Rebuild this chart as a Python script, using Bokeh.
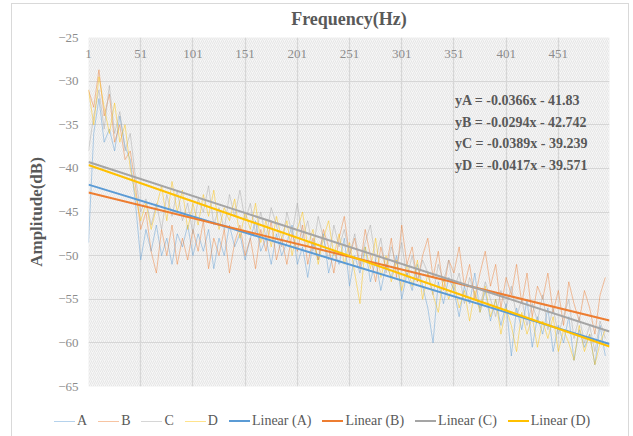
from bokeh.plotting import figure
from bokeh.layouts import column
from bokeh.models import Range1d, FixedTicker, BoxAnnotation, Label, Div
from bokeh.embed import file_html
from bokeh.resources import INLINE

# ---------------- data ----------------
series_names = ["A", "B", "C", "D"]
freq_first = 1
freq_step = 5
freq_last = 500

amp_A = [-48.5, -36, -32, -37, -35.5, -38, -34, -37.5, -39, -44,
         -50.5, -47, -49.5, -46.5, -50, -48, -51, -47.5, -49, -46.5,
         -50, -47.5, -49.5, -47, -51.5, -48, -50, -46.5, -49, -47.5,
         -50.5, -48, -46, -49.5, -48, -51, -47.5, -50, -48.5, -46.5,
         -51, -49, -52.5, -48.5, -50.5, -47.5, -52, -49.5, -51, -48,
         -53.5, -50, -52, -49, -53, -50.5, -54, -51, -52.5, -50,
         -55, -52, -54, -51, -53.5, -56, -60, -53, -55.5, -52.5,
         -54, -57, -53.5, -55.5, -52, -56.5, -54, -57.5, -55, -58,
         -55.5, -61.5, -56, -58.5, -55, -60.5, -57, -59, -56, -61,
         -58, -60, -57, -62, -58.5, -60.5, -59, -62.5, -58, -61.5]

amp_B = [-31, -33, -28.7, -34, -31.5, -37, -35, -39, -38, -42,
         -47, -45, -49.5, -52, -47, -50, -46.5, -51, -48, -50.5,
         -47, -49.5, -46, -51.5, -48, -50, -47, -52, -48.5, -46.5,
         -50, -48, -51.5, -47, -49.5, -46, -50.5, -48, -51, -47.5,
         -49.5, -46.5, -51, -48, -50.5, -47, -49, -52, -48, -45.5,
         -50, -48, -51.5, -47, -50, -53, -49, -51.5, -48, -52.5,
         -46.5, -51, -49, -53, -50, -48, -52.5, -49.5, -54, -50.5,
         -52, -49, -53.5, -51, -55, -52, -49.5, -53.5, -51, -56,
         -52.5, -54.5, -51, -55.5, -52, -57, -53.5, -55, -52, -56.5,
         -54, -58, -53, -55.5, -57.5, -54, -56, -59, -54.5, -52.5]

amp_C = [-38, -34, -31, -35.5, -30.5, -36, -33.5, -38, -36, -41,
         -45, -43.5, -46.5, -44, -47, -43, -45.5, -42.5, -46, -44,
         -47.5, -43.5, -45, -42, -46.5, -44.5, -47, -43, -45.5, -42.5,
         -46, -44, -47.5, -45, -48, -44.5, -46.5, -49, -45, -47.5,
         -44, -48, -46, -49.5, -45.5, -48, -50.5, -46.5, -49, -47,
         -50, -47.5, -51, -48.5, -46.5, -50.5, -48, -52, -49, -51,
         -48.5, -52.5, -50, -53, -50.5, -52, -54.5, -51, -53, -50.5,
         -54, -52, -55.5, -52.5, -54.5, -56, -53, -55, -57, -54,
         -56, -53.5, -57, -55, -58, -55.5, -57.5, -54.5, -58.5, -56,
         -59, -57, -55, -59.5, -57, -60, -58, -61, -57.5, -59.5]

amp_D = [-31, -35, -29.5, -33, -36, -32.5, -37, -35, -40, -43,
         -46, -44, -47, -44.5, -42, -46, -41.5, -45, -42.5, -47,
         -44, -46.5, -43, -45.5, -42.5, -47, -44.5, -46, -43.5, -48,
         -45, -47, -44, -48.5, -46, -49, -45.5, -48, -46, -50,
         -47, -45, -49, -47, -51, -48, -46, -50, -47.5, -51,
         -48.5, -52, -55.5, -49, -51.5, -48, -52.5, -50, -53, -50.5,
         -54, -51, -53.5, -50.5, -55, -52, -54.5, -56.5, -52.5, -55,
         -53, -56, -54, -57.5, -54, -56.5, -53.5, -57, -55, -59,
         -56, -58, -61, -56.5, -59, -57, -60.5, -57.5, -59.5, -57,
         -61, -58.5, -60, -62, -58, -61, -59, -62.5, -60, -58.5]

slopes = [-0.0366, -0.0294, -0.0389, -0.0417]
intercepts = [-41.83, -42.742, -39.239, -39.571]

x_tick_values = [1, 51, 101, 151, 201, 251, 301, 351, 401, 451]
y_tick_values = [-65, -60, -55, -50, -45, -40, -35, -30, -25]

# ---------------- styles ----------------
raw_colors = ["#5b9bd5", "#ed7d31", "#a5a5a5", "#ffc000"]
RAW_ALPHA = 0.45
FONT = "Liberation Serif"
DARK = "#595959"
TICK = "#8c8c8c"

p = figure(width=616, height=402, title=None,
           x_range=Range1d(freq_first, freq_last), y_range=Range1d(-65, -25),
           x_axis_location="above",
           output_backend="svg", toolbar_location=None,
           min_border_left=76, min_border_right=19,
           min_border_top=33, min_border_bottom=20)

p.outline_line_color = None
p.background_fill_color = "#f6f6f6"
p.border_fill_color = "white"

# hatched plot area
p.add_layout(BoxAnnotation(level="image", fill_color="#f6f6f6", fill_alpha=1,
                           line_color=None, hatch_pattern="/",
                           hatch_color="#e6e6e6", hatch_scale=4, hatch_weight=1))

# axes
xa = p.xaxis[0]
xa.ticker = FixedTicker(ticks=x_tick_values)
xa.axis_line_color = None
xa.major_tick_line_color = None
xa.minor_tick_line_color = None
xa.major_tick_out = 0
xa.major_tick_in = 0
xa.major_label_standoff = -20
xa.major_label_text_font = FONT
xa.major_label_text_font_size = "13px"
xa.major_label_text_color = TICK
xa.axis_label = "Frequency(Hz)"
xa.axis_label_text_font = FONT
xa.axis_label_text_font_style = "bold"
xa.axis_label_text_font_size = "18px"
xa.axis_label_text_color = DARK
xa.axis_label_standoff = 18

ya = p.yaxis[0]
ya.ticker = FixedTicker(ticks=y_tick_values)
ya.axis_line_color = None
ya.major_tick_line_color = None
ya.minor_tick_line_color = None
ya.major_tick_out = 0
ya.major_tick_in = 0
ya.major_label_standoff = 10
ya.major_label_text_font = FONT
ya.major_label_text_font_size = "13px"
ya.major_label_text_color = TICK
ya.axis_label = "Amplitude(dB)"
ya.axis_label_text_font = FONT
ya.axis_label_text_font_style = "bold"
ya.axis_label_text_font_size = "17px"
ya.axis_label_text_color = DARK
ya.axis_label_standoff = 9

p.xgrid.ticker = FixedTicker(ticks=x_tick_values)
p.ygrid.ticker = FixedTicker(ticks=y_tick_values)
for g in (p.xgrid[0], p.ygrid[0]):
    g.grid_line_color = "#d6d6d6"
    g.grid_line_width = 1.2

# series
all_amps = [amp_A, amp_B, amp_C, amp_D]
for name, amps, col in zip(series_names, all_amps, raw_colors):
    xs = list(range(freq_first, freq_first + freq_step * len(amps), freq_step))
    p.line(xs, amps, line_color=col, line_alpha=RAW_ALPHA, line_width=1)

for name, k, b, col in zip(series_names, slopes, intercepts, raw_colors):
    xs = [freq_first, freq_last]
    ys = [k * x + b for x in xs]
    p.line(xs, ys, line_color=col, line_width=2)

# trend-line equations
eq_y = [-32.22, -34.74, -37.15, -39.67]
for name, k, b, yy in zip(series_names, slopes, intercepts, eq_y):
    txt = f"y{name} = {k}x - {abs(b)}"
    p.add_layout(Label(x=352, y=yy, text=txt, text_baseline="middle",
                       text_font=FONT, text_font_style="bold",
                       text_font_size="14px", text_color=DARK))


# ---------------- legend strip ----------------
def rgba(hexc, a):
    h = hexc.lstrip("#")
    r, g, b = int(h[0:2], 16), int(h[2:4], 16), int(h[4:6], 16)
    return f"rgba({r},{g},{b},{a})"


def item(label, color, width):
    return ('<span style="display:inline-flex;align-items:center;">'
            f'<span style="display:inline-block;width:21px;height:0;'
            f'border-top:{width}px solid {color};margin-right:2px;"></span>'
            f'{label}</span>')


parts = [item(n, rgba(c, RAW_ALPHA), 1) for n, c in zip(series_names, raw_colors)]
parts += [item(f"Linear ({n})", c, 2) for n, c in zip(series_names, raw_colors)]
legend_html = ('<div style="display:flex;align-items:center;column-gap:11px;'
               'padding-left:42px;height:30px;box-sizing:border-box;'
               "font-family:'Liberation Serif';font-size:14px;color:#595959;"
               'white-space:nowrap;">' + "".join(parts) + '</div>')
legend_div = Div(text=legend_html, width=616, height=30, margin=0)

layout = column(p, legend_div, spacing=0, margin=(4, 0, 0, 12),
                styles={"outline": "1px solid #d9d9d9"})

open("out.html", "w").write(file_html(layout, INLINE))
